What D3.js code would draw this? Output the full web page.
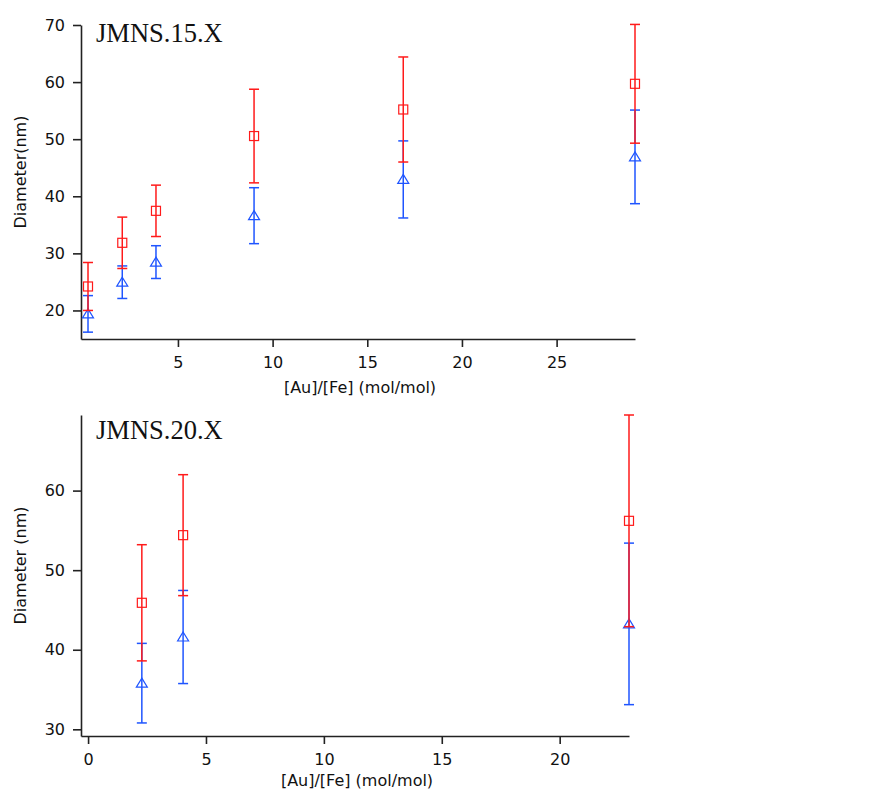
<!DOCTYPE html>
<html>
<head>
<meta charset="utf-8">
<script src="https://cdn.jsdelivr.net/npm/d3@7"></script>
<style>
  html, body { margin: 0; padding: 0; background: #fff; }
  #chart { width: 893px; height: 792px; }
  .tick text { font-family: "DejaVu Sans", Verdana, sans-serif; font-size: 16px; fill: #111; }
</style>
</head>
<body>
<div id="chart"></div>
<script>
// Au/Fe ratio vs particle diameter, two sample series (JMNS.15.X and JMNS.20.X)

// --- top panel (JMNS.15.X)
const topRatio = [0.25, 2.06, 3.84, 9.02, 16.9, 29.14];
const topSquare = [24.2, 31.85, 37.45, 50.55, 55.2, 59.7];
const topSquareErr = [4.2, 4.5, 4.5, 8.2, 9.2, 10.4];
const topTriangle = [19.4, 24.95, 28.47, 36.6, 42.95, 46.9];
const topTriangleErr = [3.2, 2.85, 2.87, 4.9, 6.75, 8.2];
const topXTicks = [5, 10, 15, 20, 25];
const topYTicks = [20, 30, 40, 50, 60, 70];

// --- bottom panel (JMNS.20.X)
const botRatio = [2.28, 4.03, 22.94];
const botSquare = [45.9, 54.4, 56.2];
const botSquareErr = [7.3, 7.6, 13.3];
const botTriangle = [35.8, 41.6, 43.25];
const botTriangleErr = [5.0, 5.85, 10.15];
const botXTicks = [0, 5, 10, 15, 20];
const botYTicks = [30, 40, 50, 60];

const RED = "#ff1a1a";
const BLUE = "#1f55ff";

function renderPanel(svg, opts) {
  const x = d3.scaleLinear().domain(opts.xDomain).range([opts.left, opts.right]);
  const y = d3.scaleLinear().domain(opts.yDomain).range([opts.bottom, opts.top]);

  const g = svg.append("g");

  // axes
  const ax = g.append("g")
    .attr("transform", `translate(0,${opts.bottom})`)
    .call(d3.axisBottom(x).tickValues(opts.xTicks).tickSize(8).tickPadding(10).tickSizeOuter(0));
  const ay = g.append("g")
    .attr("transform", `translate(${opts.left},0)`)
    .call(d3.axisLeft(y).tickValues(opts.yTicks).tickSize(8).tickPadding(8).tickSizeOuter(0));
  [ax, ay].forEach(a => {
    a.select(".domain").attr("stroke", "#222").attr("stroke-width", 1.6);
    a.selectAll(".tick line").attr("stroke", "#222").attr("stroke-width", 1.6);
  });

  // series: blue triangles first, red squares drawn on top
  const series = [
    { vals: opts.tri, errs: opts.triErr, color: BLUE, shape: "tri" },
    { vals: opts.sq, errs: opts.sqErr, color: RED, shape: "sq" }
  ];

  series.forEach(s => {
    const pts = opts.xs.map((xv, i) => ({ x: xv, v: s.vals[i], e: s.errs[i] }));
    const sg = g.append("g")
      .attr("stroke", s.color)
      .attr("fill", "none")
      .attr("stroke-width", 1.5);

    // error bars + caps
    sg.selectAll("line.bar").data(pts).join("line")
      .attr("class", "bar")
      .attr("x1", d => x(d.x)).attr("x2", d => x(d.x))
      .attr("y1", d => y(d.v - d.e)).attr("y2", d => y(d.v + d.e));
    sg.selectAll("line.capTop").data(pts).join("line")
      .attr("class", "capTop")
      .attr("x1", d => x(d.x) - 5).attr("x2", d => x(d.x) + 5)
      .attr("y1", d => y(d.v + d.e)).attr("y2", d => y(d.v + d.e));
    sg.selectAll("line.capBot").data(pts).join("line")
      .attr("class", "capBot")
      .attr("x1", d => x(d.x) - 5).attr("x2", d => x(d.x) + 5)
      .attr("y1", d => y(d.v - d.e)).attr("y2", d => y(d.v - d.e));

    // markers (hollow)
    if (s.shape === "sq") {
      sg.selectAll("rect").data(pts).join("rect")
        .attr("x", d => x(d.x) - 4.5)
        .attr("y", d => y(d.v) - 4.5)
        .attr("width", 9).attr("height", 9)
        .attr("stroke-width", 1.2);
    } else {
      sg.selectAll("path.mk").data(pts).join("path")
        .attr("class", "mk")
        .attr("transform", d => `translate(${x(d.x)},${y(d.v)})`)
        .attr("d", "M0,-5L5.5,4L-5.5,4Z")
        .attr("stroke-width", 1.2);
    }
  });

  // panel title
  g.append("text")
    .attr("x", opts.left + 15)
    .attr("y", opts.titleY)
    .style("font-family", "'Liberation Serif', 'Times New Roman', serif")
    .style("font-size", "26.5px")
    .style("fill", "#111")
    .text(opts.title);

  // axis titles
  g.append("text")
    .attr("x", (opts.left + opts.right) / 2 + 2)
    .attr("y", opts.bottom + opts.xLabelGap)
    .attr("text-anchor", "middle")
    .style("font-family", "'DejaVu Sans', Verdana, sans-serif")
    .style("font-size", "16px")
    .style("fill", "#111")
    .text("[Au]/[Fe] (mol/mol)");

  g.append("text")
    .attr("transform", `translate(26,${(opts.top + opts.bottom) / 2 - 10}) rotate(-90)`)
    .attr("text-anchor", "middle")
    .style("font-family", "'DejaVu Sans', Verdana, sans-serif")
    .style("font-size", "16px")
    .style("fill", "#111")
    .text(opts.yLabel);
}

const svg = d3.select("#chart").append("svg")
  .attr("width", 893)
  .attr("height", 792);

renderPanel(svg, {
  left: 81, right: 635, top: 25, bottom: 339,
  xDomain: [-0.12, 29.14], yDomain: [15, 70],
  xTicks: topXTicks, yTicks: topYTicks,
  xs: topRatio, sq: topSquare, sqErr: topSquareErr, tri: topTriangle, triErr: topTriangleErr,
  title: "JMNS.15.X", titleY: 42, yLabel: "Diameter(nm)", xLabelGap: 54
});

renderPanel(svg, {
  left: 81, right: 629, top: 415, bottom: 736,
  xDomain: [-0.3, 22.94], yDomain: [29.16, 69.5],
  xTicks: botXTicks, yTicks: botYTicks,
  xs: botRatio, sq: botSquare, sqErr: botSquareErr, tri: botTriangle, triErr: botTriangleErr,
  title: "JMNS.20.X", titleY: 439, yLabel: "Diameter (nm)", xLabelGap: 50
});
</script>
</body>
</html>
